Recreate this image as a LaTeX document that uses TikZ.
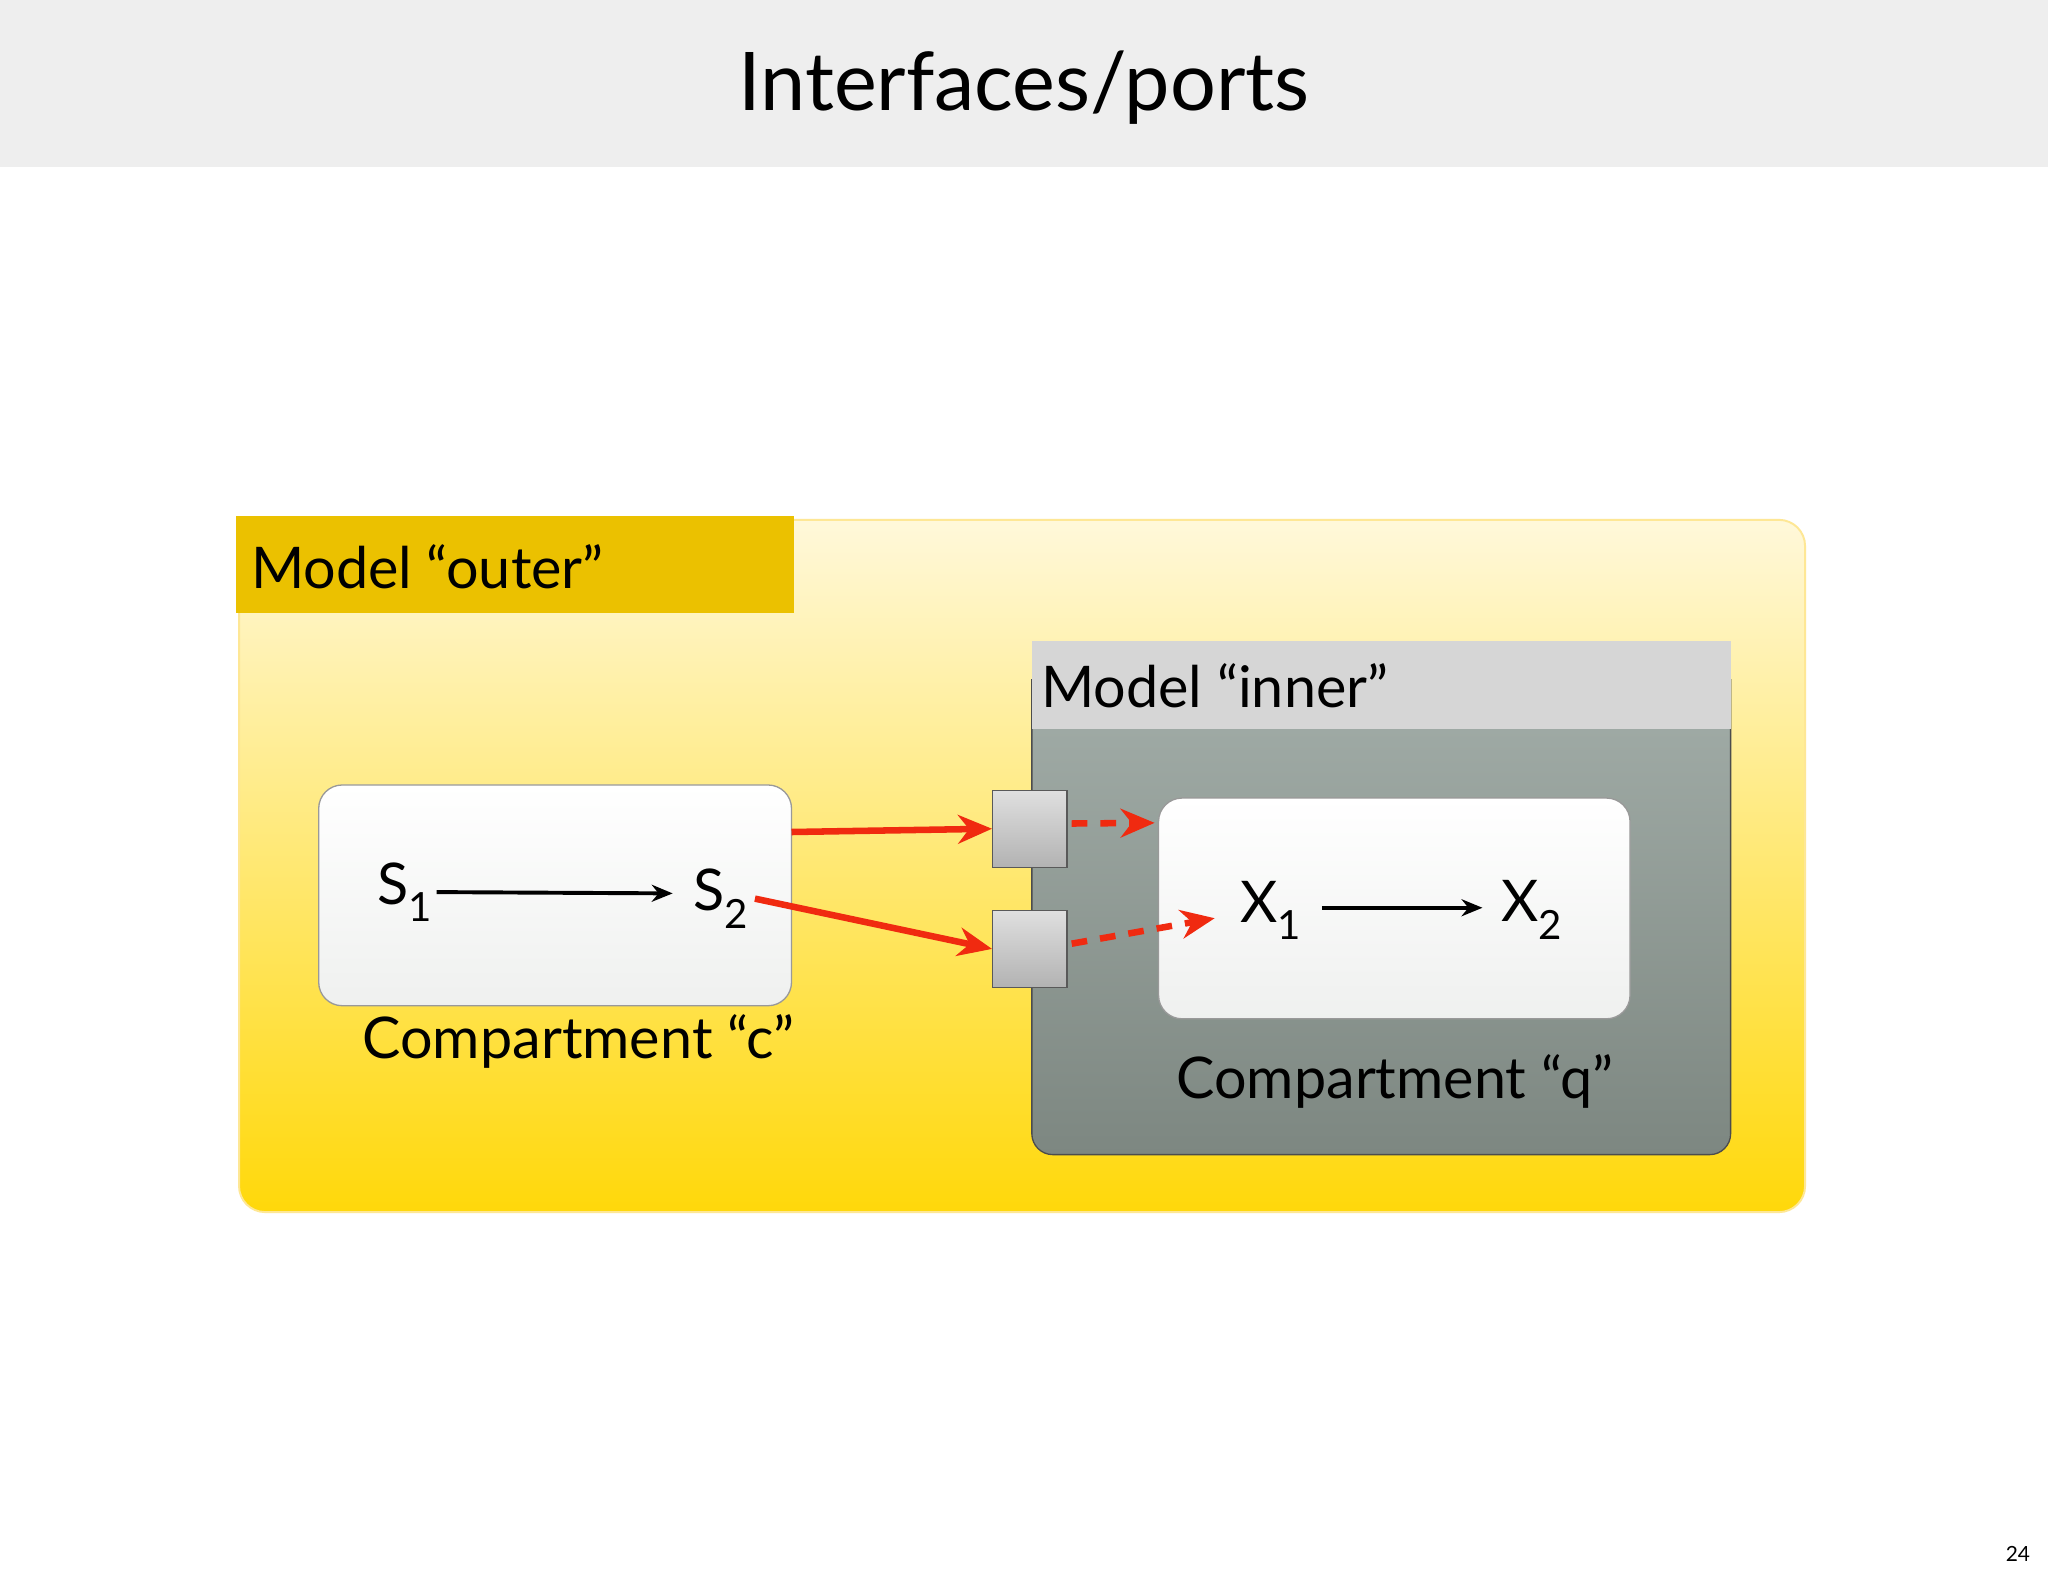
\documentclass[tikz,border=0pt]{standalone}
\usepackage{fontspec}
\setmainfont{Lato}
\usetikzlibrary{arrows.meta}
\definecolor{hdr}{HTML}{EEEEEE}
\definecolor{goldtop}{HTML}{FFF8DA}
\definecolor{goldbot}{HTML}{FFD80A}
\definecolor{lbl}{HTML}{EBC100}
\definecolor{innertop}{HTML}{A2ADA8}
\definecolor{innerbot}{HTML}{7D8781}
\definecolor{innerlbl}{HTML}{D6D6D6}
\definecolor{redarr}{HTML}{F02A10}
\tikzset{
  comp/.style={draw=gray!80, line width=1pt, rounded corners=18pt, top color=white, bottom color=green!4!gray!12},
  port/.style={draw=gray!70!black, line width=1pt, top color=gray!25, bottom color=gray!60, minimum width=57pt, minimum height=59pt, inner sep=0pt},
  redline/.style={redarr, line width=5pt, -{Stealth[length=26pt,width=22pt]}},
  reddash/.style={redarr, line width=5pt, dash pattern=on 12pt off 10pt, -{Stealth[length=26pt,width=22pt]}},
  blk/.style={line width=3pt, -{Stealth[length=16pt,width=13pt]}},
  big/.style={font=\fontsize{44}{50}\selectfont, inner sep=0pt},
}
\begin{document}
\begin{tikzpicture}[x=1pt,y=-1pt]
\useasboundingbox (0,0) rectangle (1568,1207);
\fill[white] (0,0) rectangle (1568,1207);
\fill[hdr] (0,0) rectangle (1568,128);
\node[font=\fontsize{62}{70}\selectfont] (title) at (784,67) {Interfaces/ports};
% outer model
\shade[top color=goldtop, bottom color=goldbot, draw=yellow!60!orange!40, line width=1.5pt, rounded corners=20pt] (183,398) rectangle (1382,928);
\fill[lbl] (181,395) rectangle (608,469);
\node[big, anchor=west] (outerlbl) at (192,434) {Model “outer”};
% inner model
\shade[top color=innertop, bottom color=innerbot, draw=gray!60!black, line width=1pt, rounded corners=16pt] (790,520) -- (790,884) -- (1325,884) -- (1325,520);
\fill[innerlbl] (790,491) rectangle (1325,558);
\node[big, anchor=west] (innerlbl) at (797,525) {Model “inner”};
% compartments
\draw[comp] (244,601) rectangle (606,770);
\node[big] (s1) at (310,683) {S$_{\mathrm{1}}$};
\node[big] (s2) at (552,688) {S$_{\mathrm{2}}$};
\draw[blk] (s1.east) ++(3,0) coordinate (s1e) -- (515,684) coordinate (s2w);
\node[big] (cc) at (443,797) {Compartment “c”};
\draw[comp] (887,611) rectangle (1248,780);
\node[big] (x1) at (973,697) {X$_{\mathrm{1}}$};
\node[big] (x2) at (1173,697) {X$_{\mathrm{2}}$};
\draw[blk] (1012,695) coordinate (x1e) -- (1135,695) coordinate (x2w);
\node[big] (cq) at (1068,828) {Compartment “q”};
% ports
\node[port] (p1) at (788.5,634.5) {};
\node[port] (p2) at (788.5,726.5) {};
\coordinate (c1) at (606,637);
\coordinate (c2) at (578,688);
\draw[redline] (c1) -- (p1.west);
\draw[redline] (c2) -- (p2.west);
\coordinate (q1) at (884,630);
\coordinate (q2) at (930,703);
\draw[reddash] (p1.east) ++(3,-4) -- (q1);
\draw[reddash] (p2.east) ++(3,-4) -- (q2);
\node[font=\fontsize{16}{18}\selectfont] (pg) at (1545,1190) {24};
\end{tikzpicture}
\end{document}
